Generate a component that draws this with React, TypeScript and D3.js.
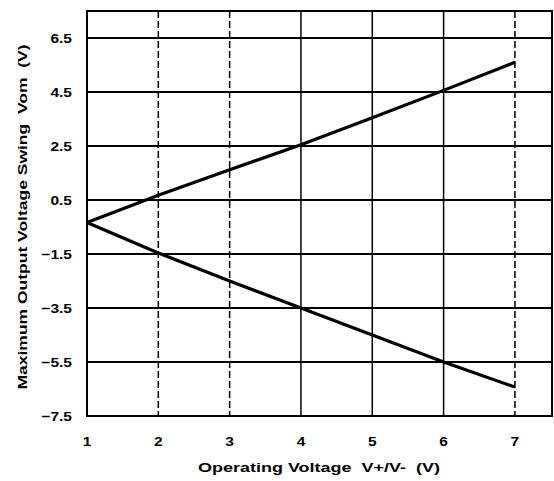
import React from "react";
import * as d3 from "d3";

const voltages = [1, 2, 3, 4, 5, 6, 7];
const positiveSwing = [-0.33, 0.68, 1.62, 2.55, 3.55, 4.56, 5.6];
const negativeSwing = [-0.33, -1.46, -2.5, -3.5, -4.5, -5.5, -6.43];
const xTicks = [1, 2, 3, 4, 5, 6, 7];
const yTicks = [-7.5, -5.5, -3.5, -1.5, 0.5, 2.5, 4.5, 6.5];
const dashedX = [2, 3, 7];
const xTitle = "Operating Voltage  V+/V-  (V)";
const yTitle = "Maximum Output Voltage Swing  Vom  (V)";

export default function App() {
  const left = 87, right = 552, top = 11, bottom = 416;
  const x = d3.scaleLinear().domain([1, 7.52]).range([left, right]);
  const y = d3.scaleLinear().domain([-7.5, 7.5]).range([bottom, top]);
  const line = d3
    .line<[number, number]>()
    .x((d) => x(d[0]))
    .y((d) => y(d[1]));
  const pos = voltages.map((v, i) => [v, positiveSwing[i]] as [number, number]);
  const neg = voltages.map((v, i) => [v, negativeSwing[i]] as [number, number]);
  const font = "'Liberation Sans', Arial, sans-serif";

  return (
    <svg
      width={554}
      height={481}
      style={{ position: "absolute", left: 0, top: 0, background: "#fff" }}
      fontFamily={font}
      fontWeight="bold"
    >
      <rect x={0} y={0} width={554} height={481} fill="#fff" />
      {yTicks.map((t) => (
        <line key={"h" + t} x1={left} x2={right} y1={y(t)} y2={y(t)} stroke="#000" strokeWidth={1.8} />
      ))}
      {xTicks.slice(1).map((t) => (
        <line
          key={"v" + t}
          x1={x(t)}
          x2={x(t)}
          y1={top}
          y2={bottom}
          stroke="#000"
          strokeWidth={1.5}
          strokeDasharray={dashedX.includes(t) ? "7,3" : undefined}
        />
      ))}
      <rect x={left} y={top} width={right - left} height={bottom - top} fill="none" stroke="#000" strokeWidth={2} />
      <path d={line(pos) || ""} fill="none" stroke="#000" strokeWidth={3.2} />
      <path d={line(neg) || ""} fill="none" stroke="#000" strokeWidth={3.2} />
      {yTicks.map((t) => (
        <text
          key={"yl" + t}
          transform={`translate(72,${y(t)}) scale(1.15,1)`}
          dy="0.36em"
          textAnchor="end"
          fontSize={13.5}
        >
          {t < 0 ? "\u2212" + Math.abs(t).toFixed(1) : t.toFixed(1)}
        </text>
      ))}
      {xTicks.map((t) => (
        <text
          key={"xl" + t}
          transform={`translate(${x(t)},446) scale(1.15,1)`}
          textAnchor="middle"
          fontSize={13.5}
        >
          {t}
        </text>
      ))}
      <text
        x={319}
        y={472}
        textAnchor="middle"
        fontSize={13.5}
        textLength={242}
        lengthAdjust="spacingAndGlyphs"
        style={{ whiteSpace: "pre" }}
      >
        {xTitle}
      </text>
      <text
        transform={`translate(27,${217}) rotate(-90)`}
        textAnchor="middle"
        fontSize={13.5}
        textLength={345}
        lengthAdjust="spacingAndGlyphs"
        style={{ whiteSpace: "pre" }}
      >
        {yTitle}
      </text>
    </svg>
  );
}
